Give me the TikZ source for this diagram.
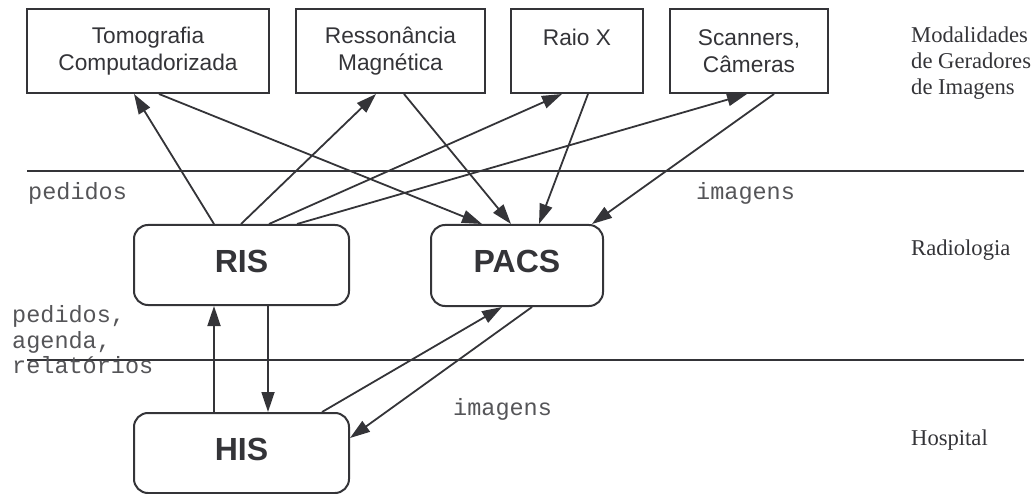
\documentclass[tikz,border=0pt]{standalone}
\usepackage{fontspec}
\setmainfont{Liberation Serif}
\setsansfont{Liberation Sans}
\setmonofont{Liberation Mono}
\usetikzlibrary{arrows.meta}
\definecolor{ink}{RGB}{52,52,56}
\definecolor{flowink}{RGB}{85,85,88}
\tikzset{
  modbox/.style={draw=ink, line width=2pt, minimum height=84pt, inner sep=0pt,
    align=center, text=ink, font=\sffamily\fontsize{22.7}{27.5}\selectfont},
  sysbox/.style={draw=ink, line width=2pt, rounded corners=14pt, inner sep=0pt,
    text=ink, text depth=8pt, font=\sffamily\bfseries\fontsize{32}{32}\selectfont},
  arr/.style={draw=ink, line width=1.8pt, -{Triangle[length=20pt,width=13pt]}},
  sep/.style={draw=ink, line width=2pt},
  flowlabel/.style={inner sep=0pt, anchor=base west, align=left, text=flowink,
    font=\ttfamily\fontsize{23.5}{25.5}\selectfont},
  zonelabel/.style={inner sep=0pt, anchor=base west, align=left, text=ink,
    font=\rmfamily\fontsize{22.6}{26}\selectfont}
}
\begin{document}
\begin{tikzpicture}[x=1pt, y=-1pt]
  \useasboundingbox (0,0) rectangle (1035,494);

  % zone separators
  \draw[sep] (27,171.5) -- (1024,171.5);
  \draw[sep] (27,360) -- (1024,360);

  % image-generating modalities
  \node[modbox, minimum width=242pt] (tc) at (148,51) {Tomografia\\Computadorizada};
  \node[modbox, minimum width=189pt] (rm) at (390.5,51) {Ressonância\\Magnética};
  \node[modbox, minimum width=132pt] (rx) at (577,51) {Raio X\\\mbox{}};
  \node[modbox, minimum width=158pt] (sc) at (749,51) {Scanners,\\Câmeras};

  % information systems
  \node[sysbox, minimum width=215pt, minimum height=80pt] (ris) at (241.5,265) {RIS};
  \node[sysbox, minimum width=172pt, minimum height=81pt] (pacs) at (517,265.5) {PACS};
  \node[sysbox, minimum width=215pt, minimum height=80pt] (his) at (241.5,453) {HIS};

  % orders from RIS to the modalities
  \draw[arr] ([xshift=81pt]ris.north west) -- ([xshift=108pt]tc.south west);
  \draw[arr] ([xshift=108pt]ris.north west) -- ([xshift=81pt]rm.south west);
  \draw[arr] ([xshift=136pt]ris.north west) -- ([xshift=52pt]rx.south west);
  \draw[arr] ([xshift=164pt]ris.north west) -- ([xshift=78pt]sc.south west);

  % images from the modalities to PACS
  \draw[arr] ([xshift=133pt]tc.south west) -- ([xshift=52pt]pacs.north west);
  \draw[arr] ([xshift=109pt]rm.south west) -- ([xshift=81pt]pacs.north west);
  \draw[arr] ([xshift=78pt]rx.south west) -- ([xshift=109pt]pacs.north west);
  \draw[arr] ([xshift=105pt]sc.south west) -- ([xshift=162pt]pacs.north west);

  % exchanges with the hospital system
  \draw[arr] ([xshift=81pt]his.north west) -- ([xshift=81pt]ris.south west);
  \draw[arr] ([xshift=135pt]ris.south west) -- ([xshift=135pt]his.north west);
  \draw[arr] ([xshift=189pt]his.north west) -- ([xshift=72pt]pacs.south west);
  \draw[arr] ([xshift=102pt]pacs.south west) -- ([yshift=15pt]his.east);

  % flow labels (multi-line nodes sit on the baseline of their last line)
  \node[flowlabel] (lped) at (28,200) {pedidos};
  \node[flowlabel] (limg) at (696,200) {imagens};
  \node[flowlabel] (lhis) at (12,373.5) {pedidos,\\agenda,\\relatórios};
  \node[flowlabel] (limg2) at (453,415) {imagens};

  % zone labels
  \node[zonelabel] (zmod) at (911,95) {Modalidades\\de Geradores\\de Imagens};
  \node[zonelabel] (zrad) at (911,255) {Radiologia};
  \node[zonelabel] (zhos) at (911,445) {Hospital};
\end{tikzpicture}
\end{document}
